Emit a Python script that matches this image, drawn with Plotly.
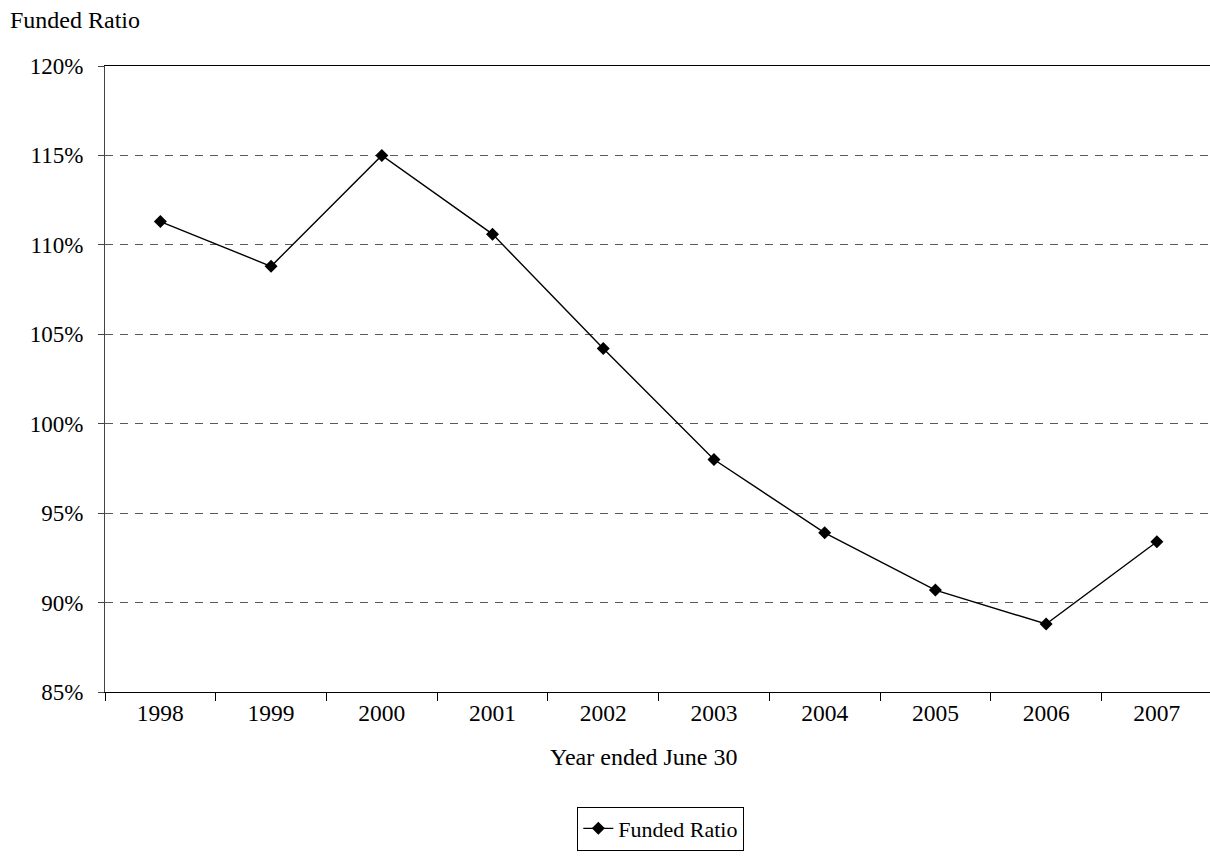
import plotly.graph_objects as go

# Funded ratio by fiscal year (year ended June 30)
years = ["1998", "1999", "2000", "2001", "2002", "2003", "2004", "2005", "2006", "2007"]
funded_ratio = [111.3, 108.8, 115.0, 110.6, 104.2, 98.0, 93.9, 90.7, 88.8, 93.4]
y_ticks = [85, 90, 95, 100, 105, 110, 115, 120]
y_tick_labels = [f"{v}%" for v in y_ticks]

FONT = "'Times New Roman', Times, 'Liberation Serif', serif"

fig = go.Figure()
fig.add_trace(go.Scatter(
    x=years,
    y=funded_ratio,
    mode="lines+markers",
    name="Funded Ratio",
    line=dict(color="black", width=1.4),
    marker=dict(symbol="diamond", size=10, color="black"),
))

fig.update_layout(
    width=1210,
    height=866,
    margin=dict(l=105, r=0, t=66, b=174),
    paper_bgcolor="white",
    plot_bgcolor="white",
    font=dict(family=FONT, size=23, color="black"),
    showlegend=True,
    legend=dict(
        orientation="h",
        x=0.503, xanchor="center",
        y=-0.183, yanchor="top",
        bordercolor="black", borderwidth=1,
        font=dict(family=FONT, size=22, color="black"),
    ),
    annotations=[
        dict(
            text="Funded Ratio",
            xref="paper", yref="paper",
            x=-0.088, y=1.073,
            xanchor="left", yanchor="middle",
            showarrow=False,
            font=dict(family=FONT, size=24, color="black"),
        ),
        dict(
            text="Year ended June 30",
            xref="paper", yref="paper",
            x=0.488, y=-0.104,
            xanchor="center", yanchor="middle",
            showarrow=False,
            font=dict(family=FONT, size=24, color="black"),
        ),
    ],
)

fig.update_xaxes(
    type="category",
    range=[-0.5, 9.48],
    showline=True, linecolor="black", linewidth=1.2, mirror=True,
    ticks="outside", tickson="boundaries", ticklen=8, tickcolor="black",
    showgrid=False,
    tickfont=dict(family=FONT, size=23.5, color="black"),
)

fig.update_yaxes(
    range=[85, 120],
    tickvals=y_ticks,
    ticktext=y_tick_labels,
    showline=True, linecolor="#444444", linewidth=1.2,
    ticks="outside", ticklen=6, tickcolor="#444444",
    ticklabelstandoff=10,
    tickfont=dict(family=FONT, size=23, color="black"),
    showgrid=True, gridcolor="#5a5a5a", gridwidth=1, griddash="8px,7px",
    zeroline=False,
)

fig.write_html("out.html")
